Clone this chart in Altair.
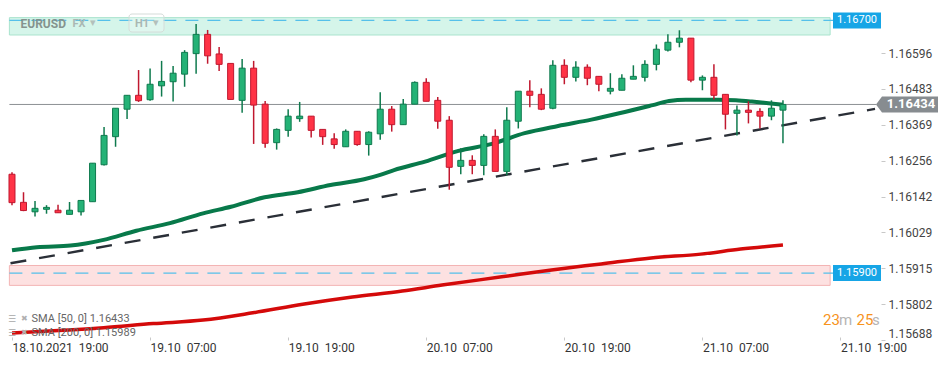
import altair as alt
import pandas as pd

# ---------------- data ----------------
hours = list(range(68))  # hourly candles, 0 = 18.10.2021 19:00
opens = [1.16213, 1.16124, 1.16094, 1.16102, 1.16099, 1.16086, 1.16094, 1.16126, 1.16243, 1.16332,
         1.16419, 1.16463, 1.16449, 1.16493, 1.16506, 1.16530, 1.16595, 1.16656, 1.16594, 1.16564,
         1.16447, 1.16549, 1.16435, 1.16313, 1.16352, 1.16389, 1.16397, 1.16355, 1.16325, 1.16300,
         1.16349, 1.16307, 1.16341, 1.16419, 1.16370, 1.16435, 1.16504, 1.16447, 1.16384, 1.16238,
         1.16257, 1.16241, 1.16333, 1.16222, 1.16381, 1.16476, 1.16466, 1.16422, 1.16558, 1.16520,
         1.16552, 1.16523, 1.16476, 1.16479, 1.16514, 1.16520, 1.16561, 1.16606, 1.16631, 1.16644,
         1.16511, 1.16520, 1.16466, 1.16406, 1.16416, 1.16412, 1.16397, 1.16416]
highs = [1.16219, 1.16156, 1.16128, 1.16115, 1.16116, 1.16125, 1.16130, 1.16248, 1.16363, 1.16422,
         1.16463, 1.16543, 1.16548, 1.16572, 1.16556, 1.16606, 1.16689, 1.16670, 1.16616, 1.16564,
         1.16578, 1.16572, 1.16445, 1.16358, 1.16419, 1.16442, 1.16397, 1.16355, 1.16343, 1.16355,
         1.16349, 1.16349, 1.16473, 1.16429, 1.16451, 1.16507, 1.16517, 1.16458, 1.16397, 1.16295,
         1.16273, 1.16340, 1.16355, 1.16425, 1.16476, 1.16511, 1.16485, 1.16574, 1.16577, 1.16571,
         1.16561, 1.16523, 1.16533, 1.16530, 1.16558, 1.16574, 1.16624, 1.16656, 1.16669, 1.16644,
         1.16526, 1.16561, 1.16466, 1.16431, 1.16444, 1.16422, 1.16447, 1.16447]
lows = [1.16115, 1.16096, 1.16079, 1.16088, 1.16091, 1.16086, 1.16082, 1.16126, 1.16241, 1.16300,
        1.16388, 1.16442, 1.16446, 1.16459, 1.16443, 1.16490, 1.16531, 1.16563, 1.16540, 1.16450,
        1.16408, 1.16309, 1.16297, 1.16291, 1.16332, 1.16379, 1.16329, 1.16306, 1.16294, 1.16300,
        1.16303, 1.16272, 1.16322, 1.16348, 1.16370, 1.16435, 1.16444, 1.16357, 1.16164, 1.16213,
        1.16213, 1.16210, 1.16222, 1.16210, 1.16358, 1.16425, 1.16416, 1.16419, 1.16498, 1.16507,
        1.16495, 1.16476, 1.16466, 1.16479, 1.16514, 1.16507, 1.16542, 1.16602, 1.16615, 1.16504,
        1.16479, 1.16450, 1.16355, 1.16336, 1.16374, 1.16358, 1.16384, 1.16311]
closes = [1.16123, 1.16098, 1.16105, 1.16108, 1.16091, 1.16099, 1.16130, 1.16248, 1.16336, 1.16422,
          1.16463, 1.16446, 1.16498, 1.16507, 1.16533, 1.16599, 1.16656, 1.16588, 1.16561, 1.16450,
          1.16549, 1.16432, 1.16311, 1.16355, 1.16397, 1.16397, 1.16352, 1.16332, 1.16307, 1.16349,
          1.16307, 1.16346, 1.16419, 1.16370, 1.16435, 1.16504, 1.16444, 1.16381, 1.16235, 1.16257,
          1.16241, 1.16333, 1.16222, 1.16384, 1.16476, 1.16463, 1.16419, 1.16558, 1.16520, 1.16552,
          1.16517, 1.16498, 1.16485, 1.16517, 1.16523, 1.16561, 1.16609, 1.16631, 1.16644, 1.16511,
          1.16520, 1.16463, 1.16403, 1.16416, 1.16409, 1.16397, 1.16422, 1.16434]

sma50_hours = [0, 2.16, 5.08, 7.96, 10.81, 13.73, 16.61, 19.03, 21.95, 24.83, 27.68, 30.6, 32.0, 33.2,
               35.9, 38.8, 41.7, 44.55, 47.46, 50.35, 52.77, 55.68, 57.1, 58.56, 61.4, 62.9, 64.3, 65.74, 67.0]
sma50_vals = [1.15972, 1.15982, 1.15987, 1.16005, 1.16034, 1.16058, 1.16089, 1.16110, 1.16140, 1.16156,
              1.16179, 1.16197, 1.16211, 1.16226, 1.16253, 1.16287, 1.16309, 1.16343, 1.16366, 1.16386,
              1.16406, 1.16432, 1.16445, 1.16449, 1.16449, 1.16447, 1.16443, 1.16438, 1.16433]

sma200_hours = [0, 3.63, 7.96, 12.28, 16.61, 20.93, 25.26, 29.58, 33.91, 37.37, 42.56, 46.89, 51.21,
                55.54, 59.86, 63.32, 67.0]
sma200_vals = [1.15710, 1.15717, 1.15727, 1.15740, 1.15751, 1.15774, 1.15801, 1.15824, 1.15843, 1.15862,
               1.15888, 1.15910, 1.15929, 1.15948, 1.15960, 1.15976, 1.15989]

trend_hours = [-0.13, 75.0]
trend_vals = [1.15931, 1.16420]

y_ticks = [1.15688, 1.15802, 1.15915, 1.16029, 1.16142, 1.16256, 1.16369, 1.16483, 1.16596]
x_tick_hours = [0, 12, 24, 36, 48, 60, 72]
x_tick_labels = ["18.10.2021\u00a0 19:00", "19.10\u00a0 07:00", "19.10\u00a0 19:00", "20.10\u00a0 07:00",
                 "20.10\u00a0 19:00", "21.10\u00a0 07:00", "21.10\u00a0 19:00"]

resistance_level = 1.16700
support_level = 1.15900
resistance_zone = [1.16654, 1.16709]
support_zone = [1.15861, 1.15924]
zone_end_hour = 71.1
current_price = 1.16434
sma_labels = ["SMA [50, 0] 1.16433", "SMA [200, 0] 1.15989"]
symbol, market, timeframe = "EURUSD", "FX", "H1"
countdown = ["23", "m", "25", "s"]

# ---------------- styling ----------------
FONT = "Roboto"
GREEN, GREEN_D = "#24b276", "#0f7a4e"
RED, RED_D = "#ff3346", "#c0182f"
X_MIN, X_MAX = -0.3476, 75.52
Y_MIN, Y_MAX = 1.15688, 1.167395
W, H = 873, 332
LEFT = X_MIN + 0.12  # keep stroked edges inside the plot

xs = alt.Scale(domain=[X_MIN, X_MAX], nice=False, zero=False, padding=0)
ys = alt.Scale(domain=[Y_MIN, Y_MAX], nice=False, zero=False, padding=0)

candles = pd.DataFrame({"hour": hours, "open": opens, "high": highs, "low": lows, "close": closes})
up = "datum.close >= datum.open"

label_expr = "[" + ",".join("'" + s + "'" for s in x_tick_labels) + "][round(datum.value / 12)]"
x_axis = alt.Axis(values=x_tick_hours, labelExpr=label_expr, labelAlign="left", grid=False, domain=False,
                  tickSize=3, tickColor="#c8c8c8", labelColor="#333333", labelFontSize=12, labelFont=FONT,
                  labelPadding=2, offset=-3, title=None, labelOverlap=False, labelFlush=False)
y_axis = alt.Axis(orient="right", values=y_ticks, format=".5f", grid=False, domain=False, tickSize=4,
                  tickColor="#c8c8c8", labelColor="#444444", labelFontSize=12, labelFont=FONT,
                  labelPadding=3, labelFlush=True, title=None, labelOverlap=False)


def X(field):
    return alt.X(field, scale=xs, axis=x_axis)


def Y(field):
    return alt.Y(field, scale=ys, axis=y_axis)


def zone(lo, hi, fill, stroke):
    df = pd.DataFrame({"x0": [LEFT], "x1": [zone_end_hour], "lo": [lo], "hi": [hi]})
    return alt.Chart(df).mark_rect(fill=fill, stroke=stroke, strokeWidth=1).encode(
        x=X("x0:Q"), x2="x1:Q", y=Y("lo:Q"), y2="hi:Q")


res_zone = zone(resistance_zone[0], resistance_zone[1], "#d5f5ea", "#a9e3cd")
sup_zone = zone(support_zone[0], support_zone[1], "#fde1e1", "#f3b4b4")

levels = pd.DataFrame({"x0": [LEFT, LEFT], "x1": [71.35, 71.35], "v": [resistance_level, support_level]})
level_lines = alt.Chart(levels).mark_rule(color="#55c0ea", strokeWidth=1.2, strokeDash=[13, 9]).encode(
    x=X("x0:Q"), x2="x1:Q", y=Y("v:Q"))

price_df = pd.DataFrame({"x0": [LEFT], "x1": [75.1], "v": [current_price]})
price_line = alt.Chart(price_df).mark_rule(color="#8d9194", strokeWidth=1).encode(
    x=X("x0:Q"), x2="x1:Q", y=Y("v:Q"))

sma200 = alt.Chart(pd.DataFrame({"h": sma200_hours, "v": sma200_vals})).mark_line(
    color="#d40a0a", strokeWidth=3.5, interpolate="monotone", strokeJoin="round").encode(
    x=X("h:Q"), y=Y("v:Q"))

trend = alt.Chart(pd.DataFrame({"h": trend_hours, "v": trend_vals})).mark_line(
    color="#2a2f37", strokeWidth=2.4, strokeDash=[16, 13], strokeJoin="round").encode(
    x=X("h:Q"), y=Y("v:Q"))

sma50 = alt.Chart(pd.DataFrame({"h": sma50_hours, "v": sma50_vals})).mark_line(
    color="#08794a", strokeWidth=4, interpolate="monotone", strokeJoin="round").encode(
    x=X("h:Q"), y=Y("v:Q"))

wicks = alt.Chart(candles).mark_rule(strokeWidth=1.5).encode(
    x=X("hour:Q"), y=Y("low:Q"), y2="high:Q",
    color=alt.condition(up, alt.value(GREEN_D), alt.value(RED_D)))

bodies = alt.Chart(candles).mark_bar(size=6, strokeWidth=1).encode(
    x=X("hour:Q"), y=Y("open:Q"), y2="close:Q",
    fill=alt.condition(up, alt.value(GREEN), alt.value(RED)),
    stroke=alt.condition(up, alt.value(GREEN_D), alt.value(RED_D)))

# blue level labels on the right
half = 8 / (H / (Y_MAX - Y_MIN))
lvl_df = pd.DataFrame({"v": [resistance_level, support_level],
                       "lo": [resistance_level - half, support_level - half],
                       "hi": [resistance_level + half, support_level + half],
                       "t": [f"{resistance_level:.5f}", f"{support_level:.5f}"]})
lvl_box = alt.Chart(lvl_df).mark_rect(fill="#16a5e6").encode(
    x=alt.value(825), x2=alt.value(873), y=Y("lo:Q"), y2="hi:Q")
lvl_txt = alt.Chart(lvl_df).mark_text(font=FONT, fontSize=11, color="white", align="center",
                                      baseline="middle").encode(x=alt.value(849), y=Y("v:Q"), text="t:N")

# current price arrow label
arrow_path = "M -1 0 L -0.806 -0.258 L 1 -0.258 L 1 0.258 L -0.806 0.258 Z"
cur_df = pd.DataFrame({"v": [current_price], "t": [f"{current_price:.5f}"]})
cur_box = alt.Chart(cur_df).mark_point(shape=arrow_path, size=3844, filled=True, color="#878c90",
                                       opacity=1).encode(x=alt.value(899), y=Y("v:Q"))
cur_txt = alt.Chart(cur_df).mark_text(font=FONT, fontSize=13, fontWeight="bold", color="white",
                                      align="center", baseline="middle").encode(
    x=alt.value(903), y=Y("v:Q"), text="t:N")


def txt(s, x, y, size, color, weight="normal", font=FONT):
    return alt.Chart(pd.DataFrame({"t": [s]})).mark_text(
        font=font, fontSize=size, fontWeight=weight, color=color, align="left", baseline="middle"
    ).encode(x=alt.value(x), y=alt.value(y), text="t:N")


h1_box = alt.Chart(pd.DataFrame({"a": [0]})).mark_rect(
    cornerRadius=3, fill="#ffffff", fillOpacity=0.25, stroke="#d5dcd9", strokeWidth=1).encode(
    x=alt.value(121), x2=alt.value(156), y=alt.value(6), y2=alt.value(24))

texts = [
    txt(symbol, 12.5, 15.5, 12, "#85938e", "bold"),
    txt(market, 64.5, 16, 11, "#aab8b3", "bold"),
    txt("\u25be", 82, 14.5, 11, "#b3c0bb", font="DejaVu Sans"),
    txt(timeframe, 127, 15.5, 11, "#aab8b3", "bold"),
    txt("\u25be", 145, 14.5, 11, "#b3c0bb", font="DejaVu Sans"),
    txt("\u2630", 0, 311, 9, "#a8a8a8", font="DejaVu Sans"),
    txt("\u2716", 13, 311, 8, "#b0b0b0", font="DejaVu Sans"),
    txt(sma_labels[0], 23.5, 311, 11, "#666666"),
    txt("\u2630", 0, 324.5, 9, "#a8a8a8", font="DejaVu Sans"),
    txt("\u2716", 13, 324.5, 8, "#b0b0b0", font="DejaVu Sans"),
    txt(sma_labels[1], 23.5, 324.5, 11, "#666666"),
    txt(countdown[0], 815, 312, 15, "#f7931d"),
    txt(countdown[1], 831, 312, 15, "#b5b5b5"),
    txt(countdown[2], 848.5, 312, 15, "#f7931d"),
    txt(countdown[3], 864, 312, 15, "#b5b5b5"),
]

chart = alt.layer(
    res_zone, sup_zone, level_lines, price_line, sma200, trend, sma50, wicks, bodies,
    lvl_box, lvl_txt, cur_box, cur_txt, h1_box, *texts
).properties(width=W, height=H, padding=0, background="white").configure_view(stroke=None)

chart.save("out.html", embed_options={"renderer": "svg", "actions": False})
